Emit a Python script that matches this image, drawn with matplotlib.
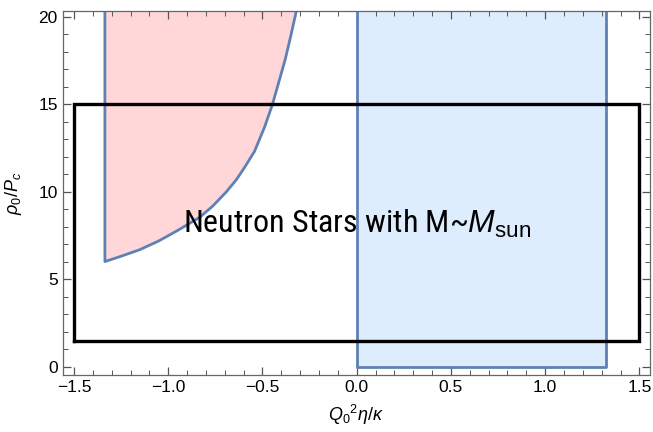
import matplotlib
matplotlib.use("Agg")
import matplotlib.pyplot as plt
from matplotlib.ticker import MultipleLocator

# red region: lower-right boundary curve
red_curve_x = [-1.336, -1.257, -1.151, -1.050, -0.950, -0.833, -0.763, -0.692, -0.639,
               -0.595, -0.542, -0.489, -0.447, -0.410, -0.380, -0.350, -0.325, -0.307]
red_curve_y = [6.02, 6.30, 6.70, 7.20, 7.80, 8.55, 9.20, 10.00, 10.69,
               11.40, 12.32, 13.70, 15.00, 16.40, 17.54, 18.90, 20.11, 21.0]
red_left_x = -1.336
# blue region
blue_x = [0.0, 1.325]
blue_y0 = 0.0
# black box
box_x = [-1.5, 1.5]
box_y = [1.5, 15.0]

xticks = [-1.5, -1.0, -0.5, 0.0, 0.5, 1.0, 1.5]
xticklabels = ["\u22121.5", "\u22121.0", "\u22120.5", "0.0", "0.5", "1.0", "1.5"]
yticks = [0, 5, 10, 15, 20]

line_col = "#5E81B5"
plt.rcParams["font.family"] = ["Liberation Sans", "DejaVu Sans"]
plt.rcParams["mathtext.fontset"] = "custom"
plt.rcParams["mathtext.rm"] = "Liberation Sans"
plt.rcParams["mathtext.it"] = "Liberation Sans:italic"

fig = plt.figure(figsize=(6.53, 4.32), dpi=100)
ax = fig.add_axes([0.096, 0.132, 0.899, 0.843])

top = 21.0
# red region
px = [red_left_x] + red_curve_x + [red_left_x]
py = [top] + red_curve_y + [top]
ax.fill(px, py, color="#FFD7D9", lw=0, zorder=1)
ax.plot([red_left_x] + red_curve_x, [top] + red_curve_y, color=line_col, lw=2,
        solid_joinstyle="round", zorder=2)

# blue region
ax.fill([blue_x[0], blue_x[1], blue_x[1], blue_x[0]], [blue_y0, blue_y0, top, top],
        color="#DDEDFD", lw=0, zorder=1)
ax.plot([blue_x[0], blue_x[0], blue_x[1], blue_x[1]], [top, blue_y0, blue_y0, top],
        color=line_col, lw=2, zorder=2)

# box
ax.plot([box_x[0], box_x[1], box_x[1], box_x[0], box_x[0]],
        [box_y[0], box_y[0], box_y[1], box_y[1], box_y[0]], color="black", lw=2.4,
        solid_joinstyle="miter", zorder=3)

ax.text(0.0, 8.15, "Neutron Stars with M~" + r"$M_{\mathrm{sun}}$", ha="center", va="center",
        fontsize=23, family=["Roboto Condensed", "Liberation Sans"], zorder=4)

ax.set_xlim(-1.56, 1.555)
ax.set_ylim(-0.46, 20.35)
ax.set_xticks(xticks)
ax.set_yticks(yticks)
ax.set_xticklabels(xticklabels)
ax.xaxis.set_minor_locator(MultipleLocator(0.1))
ax.yaxis.set_minor_locator(MultipleLocator(1))
ax.tick_params(which="both", direction="in", top=True, right=True, color="#555555", labelsize=12.5)
ax.tick_params(which="major", length=6, width=0.9)
ax.tick_params(which="minor", length=3.5, width=0.7)
for s in ax.spines.values():
    s.set_color("#666666")
    s.set_linewidth(0.9)

ax.set_xlabel(r"$Q_0{}^2\eta/\kappa$", fontsize=13, labelpad=6)
ax.set_ylabel(r"$\rho_0/P_c$", fontsize=13, labelpad=10)

fig.savefig("out.png", dpi=100)
